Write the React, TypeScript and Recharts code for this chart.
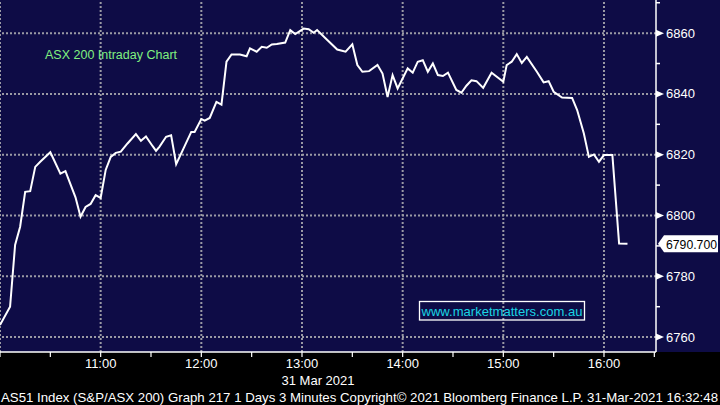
import React from "react";
import { LineChart, Line, XAxis, YAxis, ReferenceLine } from "recharts";

// minutes after 10:00 (31 Mar 2021), 3-minute bars
const minutes = [
  0, 6, 9, 12, 15, 18, 21, 24, 30, 36, 39, 45, 48, 51, 54, 57, 60, 63, 66, 69,
  72, 76, 81, 84, 87, 91, 93, 95, 99, 102, 105, 114, 116, 120, 122, 125, 129, 132, 135, 138,
  143, 147, 149, 153, 156, 159, 162, 165, 170, 173, 176, 181, 184, 187, 189, 194, 201, 206, 210, 213,
  216, 220, 225, 228, 231, 234, 237, 243, 246, 249, 252, 255, 258, 261, 264, 267, 272, 275, 278, 281,
  284, 288, 293, 300, 302, 305, 308, 311, 314, 320, 324, 327, 330, 335, 341, 344, 348, 351, 354, 357,
  360, 365, 369, 374,
];
const prices = [
  6764, 6770, 6790.3, 6796.3, 6807.8, 6808, 6816, 6817.7, 6820.8, 6813.8, 6814.6, 6806, 6799.6, 6802.8, 6803.8, 6806.7, 6805.8, 6815, 6819.3, 6820.6,
  6821, 6823.7, 6826.8, 6824.6, 6826, 6822.8, 6821.3, 6822.6, 6825.9, 6826.4, 6816.9, 6827.5, 6827.5, 6831.7, 6831.2, 6832.1, 6837.4, 6836.5, 6850.6, 6853,
  6853, 6852.4, 6855, 6853.9, 6855.5, 6855.2, 6856.3, 6856.4, 6856.9, 6861, 6859.7, 6861.5, 6861.3, 6860.1, 6861, 6858.3, 6854.6, 6853.9, 6856.3, 6849.5,
  6847.3, 6847.5, 6849.5, 6846.7, 6839, 6846.2, 6841.8, 6848.4, 6847, 6850.6, 6851.1, 6847.3, 6850, 6846.2, 6845.9, 6847, 6841.3, 6840.4, 6842.7, 6844.5,
  6844.2, 6842, 6847, 6844, 6849.5, 6850.6, 6853.1, 6850.2, 6852.2, 6847.3, 6843.8, 6844.2, 6840.7, 6838.8, 6838.7, 6834.7, 6827, 6819.3, 6820.1, 6817.7,
  6819.9, 6819.9, 6790.8, 6790.7,
];
const lastPrice = 6790.7;

const xTicks = [0, 30, 60, 90, 120, 150, 180, 210, 240, 270, 300, 330, 360, 390];
const hourLines = [0, 60, 120, 180, 240, 300, 360];
const yTicks = [6760, 6770, 6780, 6790, 6800, 6810, 6820, 6830, 6840, 6850, 6860, 6870];
const yMajor = [6760, 6780, 6800, 6820, 6840, 6860];

const title = "ASX 200 Intraday Chart";
const website = "www.marketmatters.com.au";
const dateLabel = "31 Mar 2021";
const footer =
  "AS51 Index (S&P/ASX 200) Graph 217 1 Days 3 Minutes Copyright\u00a9 2021 Bloomberg Finance L.P. 31-Mar-2021 16:32:48";

const data = minutes.map((t, i) => ({ t, price: prices[i] }));

const NAVY = "#0e0c46";
const GRID = "#9a9aa4";
const FONT = "'Liberation Sans', Arial, sans-serif";
const AXIS_X = 656;

const XTick = (props: any) => {
  const { x, payload } = props;
  const v = payload.value as number;
  if (v % 60 !== 0 || v === 0) return null;
  const label = `${10 + v / 60}:00`;
  return (
    <text x={x} y={363} textAnchor="middle" dominantBaseline="central" fill="#ffffff" fontSize={13} fontFamily={FONT}>
      {label}
    </text>
  );
};

const YTick = (props: any) => {
  const { y, payload } = props;
  const v = payload.value as number;
  if (yMajor.indexOf(v) === -1) {
    return <line x1={AXIS_X} x2={AXIS_X + 4} y1={y} y2={y} stroke="#ffffff" strokeWidth={1.5} />;
  }
  return (
    <g>
      <path d={`M${AXIS_X} ${y - 3.5} L${AXIS_X + 8} ${y} L${AXIS_X} ${y + 3.5} Z`} fill="#ffffff" />
      <text x={AXIS_X + 10} y={y} dominantBaseline="central" fill="#ffffff" fontSize={13} fontFamily={FONT}>
        {v}
      </text>
    </g>
  );
};

const PriceTag = (props: any) => {
  const vb = props.viewBox || {};
  const y = vb.y as number;
  const x0 = AXIS_X + 2;
  return (
    <g>
      <path
        d={`M${x0} ${y} L${x0 + 6} ${y - 8.5} L718 ${y - 8.5} L718 ${y + 8.5} L${x0 + 6} ${y + 8.5} Z`}
        fill="#ffffff"
      />
      <text
        x={x0 + 8}
        y={y + 0.5}
        dominantBaseline="central"
        fill="#000000"
        fontSize={13}
        fontFamily={FONT}
        textLength={51}
        lengthAdjust="spacingAndGlyphs"
      >
        {lastPrice.toFixed(3)}
      </text>
    </g>
  );
};

export default function App() {
  return (
    <div style={{ position: "fixed", left: 0, top: 0, width: 720, height: 405, background: "#000000", overflow: "hidden" }}>
      <div style={{ position: "absolute", left: 0, top: 0, width: 720, height: 352, background: NAVY }} />
      <div style={{ position: "absolute", left: 0, top: 0 }}>
        <LineChart width={720} height={405} data={data} margin={{ top: 0, right: 0, bottom: 0, left: 0 }}>
          <XAxis
            dataKey="t"
            type="number"
            domain={[0, 391]}
            ticks={xTicks}
            interval={0}
            height={53}
            axisLine={{ stroke: "#ffffff", strokeWidth: 1.5 }}
            tickLine={{ stroke: "#ffffff", strokeWidth: 1.2 }}
            tickSize={5}
            tick={<XTick />}
          />
          <YAxis
            orientation="right"
            type="number"
            domain={[6755.1, 6870.9]}
            ticks={yTicks}
            interval={0}
            width={64}
            axisLine={{ stroke: "#ffffff", strokeWidth: 1.5 }}
            tickLine={false}
            tick={<YTick />}
            allowDataOverflow
          />
          {hourLines.map((h) => (
            <ReferenceLine key={`v${h}`} x={h} stroke={GRID} strokeWidth={2} strokeDasharray="2 2" />
          ))}
          {yMajor.map((v) => (
            <ReferenceLine key={`h${v}`} y={v} stroke={GRID} strokeWidth={2} strokeDasharray="2 2" />
          ))}
          <Line
            type="linear"
            dataKey="price"
            stroke="#ffffff"
            strokeWidth={2}
            dot={false}
            activeDot={false}
            isAnimationActive={false}
          />
          <ReferenceLine y={lastPrice} stroke="none" ifOverflow="visible" label={<PriceTag />} />
        </LineChart>
      </div>
      <svg width={720} height={405} style={{ position: "absolute", left: 0, top: 0, pointerEvents: "none" }}>
        <text x={45} y={55} dominantBaseline="central" fill="#80f080" fontSize={12.5} fontFamily={FONT}>
          {title}
        </text>
        <rect x={419.5} y={301.5} width={165} height={18.5} fill="none" stroke="#ffffff" strokeWidth={1.3} />
        <text x={421.5} y={311} dominantBaseline="central" fill="#1ad4e4" fontSize={13} fontFamily={FONT} textLength={161} lengthAdjust="spacingAndGlyphs">
          {website}
        </text>
        <text x={318} y={380} textAnchor="middle" dominantBaseline="central" fill="#ffffff" fontSize={13} fontFamily={FONT}>
          {dateLabel}
        </text>
        <text x={1} y={397.5} dominantBaseline="central" fill="#ffffff" fontSize={13} fontFamily={FONT} textLength={717} lengthAdjust="spacingAndGlyphs">
          {footer}
        </text>
      </svg>
    </div>
  );
}
